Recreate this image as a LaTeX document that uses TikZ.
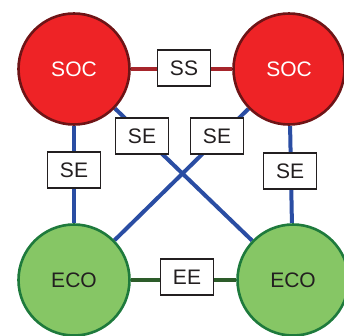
\documentclass[tikz,border=0pt]{standalone}
\usepackage{fontspec}
\setmainfont{Liberation Sans}
\usetikzlibrary{backgrounds}
\definecolor{socfill}{HTML}{EE2326}
\definecolor{socedge}{HTML}{6E1416}
\definecolor{ecofill}{HTML}{86C665}
\definecolor{ecoedge}{HTML}{1E7A3C}
\definecolor{seline}{HTML}{2A4DA3}
\definecolor{ssline}{HTML}{A6252B}
\definecolor{eeline}{HTML}{2D5C2A}
\definecolor{txt}{HTML}{231F20}
\tikzset{
  soc/.style={circle, draw=socedge, fill=socfill, line width=2.6pt, minimum size=111pt, inner sep=0pt, text=white, font=\fontsize{21}{23}\selectfont},
  eco/.style={circle, draw=ecoedge, fill=ecofill, line width=2.6pt, minimum size=111pt, inner sep=0pt, text=txt, font=\fontsize{21}{23}\selectfont},
  lab/.style={draw=txt, fill=white, line width=1.2pt, minimum width=53pt, minimum height=36pt, inner sep=0pt, text=txt, font=\fontsize{21}{23}\selectfont},
  se/.style={draw=seline, line width=4pt},
  ss/.style={draw=ssline, line width=3.5pt},
  ee/.style={draw=eeline, line width=4pt}
}
\begin{document}
\begin{tikzpicture}[x=1pt,y=-1pt]
\useasboundingbox (0,0) rectangle (344,335);
\clip (0,0) rectangle (344,335);
\node[soc] (s1) at (74,69) {SOC};
\node[soc] (s2) at (289,69) {SOC};
\node[eco] (e1) at (74,280) {ECO};
\node[eco] (e2) at (293,280) {ECO};
\begin{scope}[on background layer]
\draw[ss] (s1) -- (s2);
\draw[ee] (e1) -- (e2);
\draw[se] (s1) -- (e1);
\draw[se] (s2) -- (e2);
\draw[se] (s1) -- (e2);
\draw[se] (s2) -- (e1);
\end{scope}
\node[lab] (ss) at (184,68) {SS};
\node[lab] (ee) at (187,277) {EE};
\node[lab] (se1) at (74,170) {SE};
\node[lab] (se2) at (142,136) {SE};
\node[lab] (se3) at (217,136) {SE};
\node[lab] (se4) at (290,171) {SE};
\end{tikzpicture}
\end{document}
